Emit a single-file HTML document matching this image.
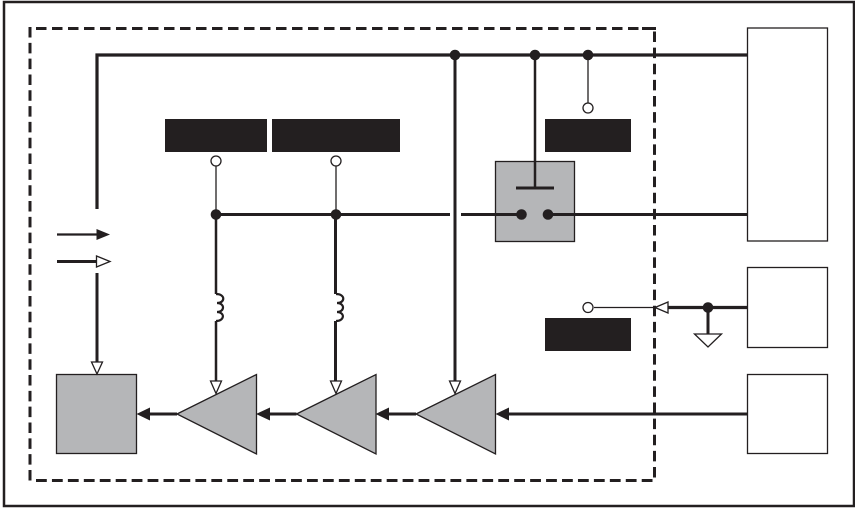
<!DOCTYPE html>
<html>
<head>
<meta charset="utf-8">
<style>
html,body{margin:0;padding:0;background:#fff;width:855px;height:510px;overflow:hidden}
svg{display:block}
</style>
</head>
<body>
<svg width="855" height="510" viewBox="0 0 855 510" xmlns="http://www.w3.org/2000/svg">
<g fill="none" stroke="#231f20">
<rect x="4" y="2" width="850" height="504" stroke-width="2.5"/>
<path d="M36 28.500H652.500" stroke-width="3" stroke-dasharray="10.500 5.500"/>
<path d="M36 480.500H652.500" stroke-width="3" stroke-dasharray="10.800 5.140"/>
<path d="M30 27V481.500" stroke-width="3" stroke-dasharray="10.500 5.320"/>
<path d="M654.500 31.500V477.500" stroke-width="3" stroke-dasharray="10.500 5.630"/>
<path d="M642 28.500H656" stroke-width="3"/>

<rect x="747.500" y="28" width="80" height="213" stroke-width="1.300" fill="#fff"/>
<rect x="747.500" y="267.500" width="80" height="80" stroke-width="1.300" fill="#fff"/>
<rect x="747.500" y="374.500" width="80" height="79" stroke-width="1.300" fill="#fff"/>

<rect x="495.500" y="161.500" width="79" height="80" fill="#b5b6b8" stroke-width="1.300"/>
<rect x="56.500" y="374.500" width="80" height="79" fill="#b5b6b8" stroke-width="1.300"/>
<path d="M177 414L256.500 374.500V454Z" fill="#b5b6b8" stroke-width="1.300"/>
<path d="M296.500 414L376 374.500V454Z" fill="#b5b6b8" stroke-width="1.300"/>
<path d="M416 414L495.500 374.500V454Z" fill="#b5b6b8" stroke-width="1.300"/>

<path d="M97 209V55H748" stroke-width="3.200"/>
<path d="M455 55V382" stroke-width="3"/>
<path d="M535 55V188" stroke-width="2.500"/>
<path d="M516 188H554" stroke-width="3"/>
<path d="M588 55V103" stroke-width="1.300"/>
<path d="M216 214.500H450M461 214.500H521M548 214.500H748" stroke-width="3"/>
<path d="M216 166V214" stroke-width="1.300"/>
<path d="M336 166V214" stroke-width="1.300"/>
<path d="M216 214V294M216 321V382" stroke-width="2.500"/>
<path d="M335.500 214V294M335.500 321V382" stroke-width="3"/>
<path d="M216 294c9.500 0 9.500 9 1 9c8 0 8 9 0 9c8 0 8 9-1 9" stroke-width="2.200"/>
<path d="M336 294c9.500 0 9.500 9 1 9c8 0 8 9 0 9c8 0 8 9-1 9" stroke-width="2.200"/>

<path d="M57 234.500H98" stroke-width="2.200"/>
<path d="M57 261.500H97" stroke-width="3"/>
<path d="M97 273V362" stroke-width="3"/>
<path d="M594 307.500H655" stroke-width="1.300"/>
<path d="M668 307.500H748" stroke-width="3.200"/>
<path d="M708 307.500V334" stroke-width="3"/>
<path d="M150 414H177M270 414H296.500M389 414H416M509 414H748" stroke-width="3"/>
</g>

<g fill="#231f20">
<rect x="165" y="119" width="102" height="33"/>
<rect x="272" y="119" width="128" height="33"/>
<rect x="545" y="119" width="86" height="33"/>
<rect x="545" y="318" width="86" height="33"/>
<circle cx="455" cy="55" r="5.300"/>
<circle cx="535" cy="55" r="5.300"/>
<circle cx="588" cy="55" r="5.300"/>
<circle cx="216" cy="214.500" r="5.300"/>
<circle cx="336" cy="214.500" r="5.300"/>
<circle cx="521.500" cy="214.500" r="5.300"/>
<circle cx="548" cy="214.500" r="5.300"/>
<circle cx="708" cy="307.500" r="5.300"/>
<path d="M110 234.500L96.500 229V240Z"/>
<path d="M136.500 414L150 407.500V420.500Z"/>
<path d="M256 414L270 407.500V420.500Z"/>
<path d="M375.500 414L389 407.500V420.500Z"/>
<path d="M495.500 414L509 407.500V420.500Z"/>
</g>

<g fill="#fff" stroke="#231f20" stroke-width="1.300">
<circle cx="216" cy="161" r="5"/>
<circle cx="336" cy="161" r="5"/>
<circle cx="588" cy="108" r="5"/>
<circle cx="588" cy="307.500" r="5"/>
<path d="M110 261.500L96.500 256V267Z"/>
<path d="M97 374L91.500 362H102.500Z"/>
<path d="M216 393.500L210.500 381H221.500Z"/>
<path d="M336 393.500L330.500 381H341.500Z"/>
<path d="M455 393.500L449.500 381H460.500Z"/>
<path d="M655 307.500L668 302V313Z"/>
<path d="M694.500 334H721.500L708 347Z"/>
</g>
</svg>
</body>
</html>
